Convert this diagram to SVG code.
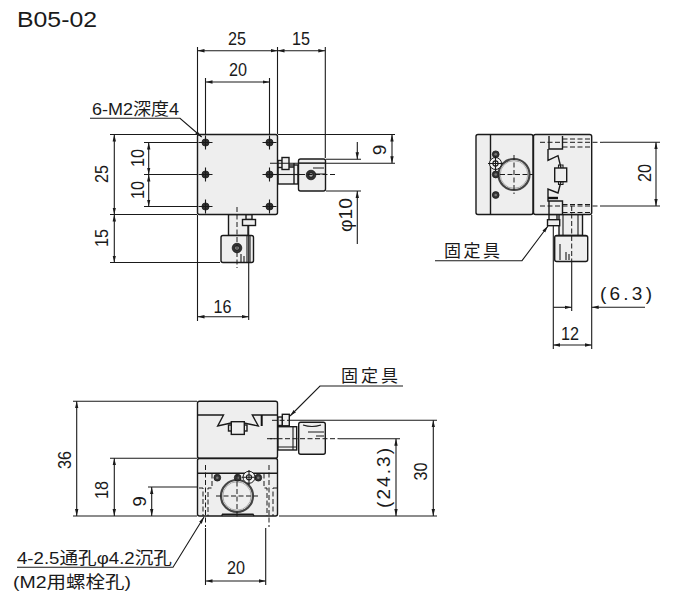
<svg xmlns="http://www.w3.org/2000/svg" width="684" height="596" viewBox="0 0 684 596">
<style>
text{font-family:"Liberation Sans","Noto Sans CJK JP",sans-serif;fill:#1a1a1a;font-size:19px}
.c{text-anchor:middle}
.j{font-size:17px}
.b{fill:#eeeeee;stroke:#1a1a1a;stroke-width:1.4}
.w{fill:#efefef;stroke:#1a1a1a;stroke-width:1.4}
.l{fill:none;stroke:#1a1a1a;stroke-width:1.4}
.k{fill:none;stroke:#1a1a1a;stroke-width:1.1}
.d{fill:none;stroke:#1a1a1a;stroke-width:1;stroke-dasharray:5 2.5}
.h{fill:#333;stroke:#1a1a1a;stroke-width:.8}
.i{fill:#aaa;stroke:#1a1a1a;stroke-width:1}
.a{marker-start:url(#arr);marker-end:url(#arr)}
.ae{marker-end:url(#arr)}
</style>
<defs>
<marker id="arr" markerUnits="userSpaceOnUse" viewBox="0 0 7 4" refX="7" refY="2" markerWidth="7" markerHeight="4" orient="auto-start-reverse"><path d="M0 .3L7 2L0 3.7Z" fill="#1a1a1a"/></marker>
<g id="hole"><circle r="3.6" class="h"/><circle r="1.7" class="i"/><path class="k" d="M-7 0H7M0-7V7"/></g>
<g id="dot"><circle r="3.4" class="h"/><circle r="1.3" fill="#777"/></g>
</defs>

<text id="title" x="17" y="27" style="font-size:22px" textLength="80" lengthAdjust="spacingAndGlyphs">B05-02</text>

<g id="top-view">
<rect class="w" x="278" y="165" width="20" height="19"/>
<path class="l" d="M278 167H294M294 163V184"/>
<rect class="w" x="278" y="160.500" width="4.500" height="7"/>
<rect class="w" x="282" y="157.500" width="7" height="12"/>
<rect class="w" x="298.500" y="159" width="27" height="32" rx="2"/>
<path class="k" d="M299 163H325M313 168H324M315 174H325"/>
<rect class="w" x="228.500" y="214.500" width="19.500" height="21"/>
<rect class="w" x="246" y="214.500" width="6" height="5"/>
<rect class="w" x="242.500" y="219.500" width="13" height="6"/>
<rect class="w" x="221" y="235.500" width="32.500" height="27" rx="2"/>
<path class="k" d="M247 236V262M250 236V262M241 254V262M244 256V262"/>
<rect class="b" x="197.500" y="134.500" width="80" height="80" rx="2"/>
<use href="#hole" x="205.500" y="142.500"/><use href="#hole" x="269.500" y="142.500"/>
<use href="#hole" x="205.500" y="174.500"/><use href="#hole" x="269.500" y="174.500"/>
<use href="#hole" x="205.500" y="206.500"/><use href="#hole" x="269.500" y="206.500"/>
<circle cx="311" cy="175" r="4.800" class="h"/><circle cx="311" cy="175" r="2.300" class="i"/>
<circle cx="237" cy="248" r="4.800" class="h"/><circle cx="237" cy="248" r="2.300" class="i"/>
<path class="k" d="M270 174.500H300"/>
<path class="d" d="M300 174.500H337M237 207V268"/>
</g>

<g id="right-view">
<rect class="w" x="559" y="214.500" width="23.500" height="21"/>
<path class="k" d="M563 214.500V235M578 214.500V235"/>
<rect class="w" x="549" y="214.500" width="8" height="5.500"/>
<rect class="w" x="547.500" y="219.700" width="12.200" height="6"/>
<rect class="w" x="554.700" y="235.500" width="33" height="26" rx="2"/>
<path class="k" d="M556 236H587M560 244V260M566 252V260M569 254V260"/>
<rect class="b" x="476" y="134.500" width="57" height="80" rx="2"/>
<rect class="b" x="533.500" y="134.500" width="58.200" height="80" rx="2"/>
<path class="l" d="M490.500 134.500V214.500"/>
<circle cx="514" cy="174.500" r="15.500" fill="#eee" stroke="#444" stroke-width="2.200"/>
<circle cx="514" cy="174.500" r="13.800" fill="none" stroke="#999" stroke-width=".8"/>
<use href="#dot" x="495.700" y="154.300"/><use href="#dot" x="495.700" y="174.500"/><use href="#dot" x="495.700" y="195"/>
<circle cx="495.500" cy="163.500" r="6" fill="#f4f4f4" stroke="#1a1a1a"/><circle cx="495.500" cy="163.500" r="2.600" class="k"/>
<path class="k" d="M488 163.500H503M495.500 156V171"/>
<path class="d" d="M500 174.500H534M514 155V194"/>
<path class="l" d="M549 136V149H562.500V136M548 149V160.500L558 155.700L561 168M561 181.500L558 193L548 189V201H562.500V214M549 201V214"/>
<path class="d" d="M562.500 139H591.500M562.500 147H591.500M562.500 204.500H591.500M562.500 212.500H591.500"/>
<rect class="w" x="554.700" y="168" width="12" height="13.700"/>
<path class="k" d="M558.500 168V165H563V168M558.500 181.700V184.500H563V181.700"/>
<path d="M548 198H558" stroke="#111" stroke-width="2.400"/>
</g>

<g id="front-view">
<rect class="b" x="197.500" y="401.300" width="80" height="57" rx="2"/>
<rect class="b" x="197.500" y="458.500" width="80" height="57.500" rx="2"/>
<path class="l" d="M197.500 415H223.500L217.700 426L231 423M244 423L258.300 426L252.300 415H277.500M197.500 473.300H277.500"/>
<rect class="w" x="228.500" y="425" width="18.500" height="6"/>
<rect class="w" x="231.300" y="421.700" width="13" height="12.700"/>
<path d="M261.700 415V426" stroke="#111" stroke-width="2"/>
<rect class="w" x="278" y="426.700" width="18.700" height="23.300"/>
<path class="k" d="M278 447H296M293 427V450"/>
<rect class="w" x="278" y="417" width="4.500" height="8.500"/>
<rect class="w" x="282.300" y="414.300" width="7" height="11.500"/>
<rect class="w" x="298.700" y="422.300" width="26.600" height="32" rx="2"/>
<path class="k" d="M303 425Q312 428 321 425M308 432H324M316 436H324"/>
<circle cx="237" cy="496" r="16" fill="#eee" stroke="#444" stroke-width="2.200"/>
<circle cx="237" cy="496" r="14.200" fill="none" stroke="#999" stroke-width=".8"/>
<use href="#dot" x="217.300" y="477.700"/><use href="#dot" x="237.700" y="477.700"/><use href="#dot" x="258.300" y="477.700"/>
<circle cx="249" cy="477.300" r="6" fill="#f4f4f4" stroke="#1a1a1a"/><circle cx="249" cy="477.300" r="2.600" class="k"/>
<path class="k" d="M242 477.300H256M249 470V485"/>
<path class="d" d="M199 488H203V516M212 473.500V488H208V516M264 473.500V488H267V516M277 488H273V516M205.500 465V527M269 465V527M216 496H258M237 474V518"/>
<path class="l" d="M221.700 516L222.500 514.300H253L254 516"/>
<path class="d" d="M267 438.700H278"/>
</g>

<g id="connectors">
<path class="k a" d="M197.500 50.700H277.500"/><path class="k a" d="M277.500 50.700H325.300"/>
<path class="k" d="M197.500 47V134M197.500 215V321M277.500 47V134M325.300 47V158M205.500 78V134M269.500 78V134"/>
<path class="k a" d="M205.500 82H269.500"/>
<path class="k ae" d="M90 118.300H180L201.700 137"/>
<path class="k" d="M110 134.500H197M110 214.500H197M110 262.500H220M144 142.500H198M144 174.500H198M144 206.500H198"/>
<path class="k a" d="M114.300 134.500V214.500"/><path class="k a" d="M114.300 214.500V262.500"/>
<path class="k a" d="M148.700 142.500V174.500"/><path class="k a" d="M148.700 174.500V206.500"/>
<path class="k" d="M278 134.500H395M270 163.300H395M326 159.300H361M326 191H361M248.700 226V320"/>
<path class="k a" d="M392 134.500V163.300"/>
<path class="k ae" d="M357.300 142V159.300"/><path class="k ae" d="M357.300 244V191"/>
<path class="k a" d="M197.500 316.700H248.700"/>

<path class="k" d="M603 142.300H660M603 206H660"/><path class="d" d="M540 142.300H603M540 206H603"/>
<path class="k a" d="M656 142.300V206"/>
<path class="k" d="M553.300 226V349M591.700 215V349M571.700 262V311"/>
<path class="d" d="M571.700 206V262"/>
<path class="k ae" d="M553.300 307.300H571.700"/><path class="k ae" d="M645 307.300H591.700"/>
<path class="k a" d="M553.300 345H591.700"/>
<path class="k ae" d="M435 260.700H522L548 226"/>

<path class="k" d="M73 401.300H197M73 516H197M110 458.300H197M148 487H197M279 516H437M290 420.300H437M339 438.700H400"/>
<path class="d" d="M270 438.700H339M272 420.300H290"/>
<path class="k a" d="M76.700 401.300V516"/><path class="k a" d="M114.300 458.300V516"/><path class="k a" d="M151.700 487V516"/>
<path class="k a" d="M433.300 420.300V516"/><path class="k a" d="M396 438.700V516"/>
<path class="k" d="M205.500 528V585M265.700 528V585"/>
<path class="k a" d="M205.500 581H265.700"/>
<path class="k ae" d="M403 386H320L290 416"/>
<path class="k ae" d="M17 567.300H173L204 517"/>
</g>

<g id="labels">
<text class="c" x="237" y="45" textLength="18" lengthAdjust="spacingAndGlyphs">25</text>
<text class="c" x="301" y="45" textLength="18" lengthAdjust="spacingAndGlyphs">15</text>
<text class="c" x="238" y="76" textLength="18" lengthAdjust="spacingAndGlyphs">20</text>
<text class="j" x="92" y="115" textLength="87" lengthAdjust="spacingAndGlyphs">6-M2深度4</text>
<text class="c" transform="translate(108 174) rotate(-90)" textLength="18" lengthAdjust="spacingAndGlyphs">25</text>
<text class="c" transform="translate(108 238) rotate(-90)" textLength="18" lengthAdjust="spacingAndGlyphs">15</text>
<text class="c" transform="translate(143.500 158) rotate(-90)" textLength="18" lengthAdjust="spacingAndGlyphs">10</text>
<text class="c" transform="translate(143.500 190) rotate(-90)" textLength="18" lengthAdjust="spacingAndGlyphs">10</text>
<text class="c" transform="translate(386 150) rotate(-90)">9</text>
<text class="c" transform="translate(351.700 215) rotate(-90)" textLength="34" lengthAdjust="spacingAndGlyphs">φ10</text>
<text class="c" x="222.500" y="313" textLength="18" lengthAdjust="spacingAndGlyphs">16</text>
<text class="c" transform="translate(651 173) rotate(-90)" textLength="18" lengthAdjust="spacingAndGlyphs">20</text>
<text x="600" y="300" textLength="52" lengthAdjust="spacing">(6.3)</text>
<text class="c" x="570" y="340" textLength="18" lengthAdjust="spacingAndGlyphs">12</text>
<text class="j" x="444" y="256.500" textLength="56">固定具</text>
<text class="j" x="341" y="381.500" textLength="57">固定具</text>
<text class="c" transform="translate(70.500 460) rotate(-90)" textLength="18" lengthAdjust="spacingAndGlyphs">36</text>
<text class="c" transform="translate(108 490) rotate(-90)" textLength="18" lengthAdjust="spacingAndGlyphs">18</text>
<text class="c" transform="translate(146 501.500) rotate(-90)">9</text>
<text class="c" transform="translate(390 478) rotate(-90)" textLength="60" lengthAdjust="spacing">(24.3)</text>
<text class="c" transform="translate(426.700 471.500) rotate(-90)" textLength="18" lengthAdjust="spacingAndGlyphs">30</text>
<text class="c" x="236" y="574" textLength="18" lengthAdjust="spacingAndGlyphs">20</text>
<text class="j" x="17" y="564" textLength="155" lengthAdjust="spacingAndGlyphs">4-2.5通孔φ4.2沉孔</text>
<text class="j" x="13" y="588" textLength="118" lengthAdjust="spacingAndGlyphs">(M2用螺栓孔)</text>
</g>
</svg>
